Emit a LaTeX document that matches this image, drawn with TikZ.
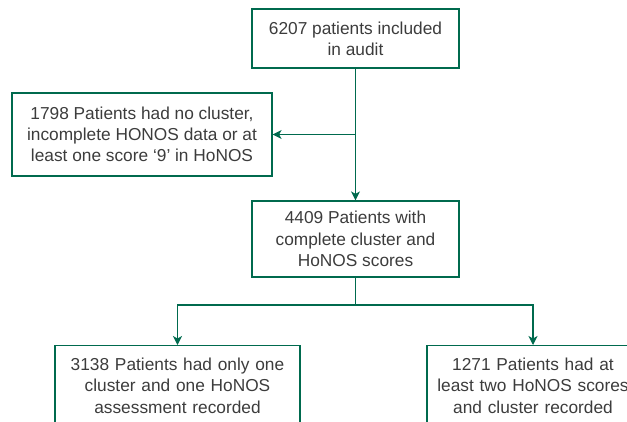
\documentclass[tikz,border=0pt]{standalone}
\usepackage{fontspec}
\setmainfont{Liberation Sans}
\usetikzlibrary{arrows.meta}
\definecolor{frame}{RGB}{0,106,78}
\definecolor{txt}{RGB}{60,60,60}
\tikzset{
  box/.style={draw=frame, line width=1.2pt, align=center, inner sep=0pt, text=txt,
    font=\fontsize{17.3}{21.3}\selectfont},
  link/.style={draw=frame, line width=1.2pt, -{Stealth[length=9pt,width=9pt,inset=2.5pt]}},
}
\begin{document}
\begin{tikzpicture}[x=1pt,y=-1pt]
\useasboundingbox (0,0) rectangle (627,421);
\clip (0,0) rectangle (627,421);
\node[box, minimum width=207pt, minimum height=59pt] (top) at (355.5,38.5)
  {6207 patients included\\in audit};
\node[box, minimum width=260pt, minimum height=83pt] (excl) at (142,134.5)
  {1798 Patients had no cluster,\\incomplete HONOS data or at\\least one score ‘9’ in HoNOS};
\node[box, minimum width=207pt, minimum height=76pt] (mid) at (355.5,239)
  {4409 Patients with\\complete cluster and\\HoNOS scores};
\node[box, anchor=north, text width=245pt, text height=25pt, text depth=100pt] (one) at (177.5,345)
  {3138 Patients had only one\\cluster and one HoNOS\\assessment recorded};
\node[box, anchor=north, text width=212pt, text height=25pt, text depth=100pt] (two) at (533,345)
  {1271 Patients had at\\least two HoNOS scores\\and cluster recorded};
\coordinate (branch) at (top.south |- excl.east);
\coordinate (split) at (355.5,305);
\draw[link] (top.south) -- (mid.north);
\draw[link] (branch) -- (excl.east);
\draw[draw=frame, line width=1.2pt] (mid.south) -- (split);
\draw[link] (split) -| (one.north);
\draw[link] (split) -| (two.north);
\end{tikzpicture}
\end{document}
